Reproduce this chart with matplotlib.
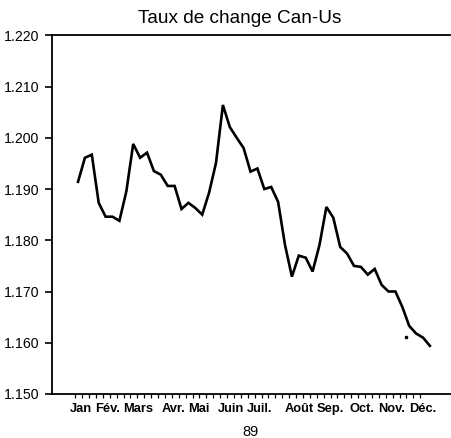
import matplotlib
matplotlib.use("Agg")
import matplotlib.pyplot as plt
import matplotlib.transforms as mtransforms
import numpy as np

# weekly Canada-US exchange rate, 1989
rates = [1.1914, 1.1961, 1.1967, 1.1873, 1.1846, 1.1846, 1.1838, 1.1895,
         1.1988, 1.1961, 1.1971, 1.1935, 1.1928, 1.1906, 1.1906, 1.1861,
         1.1873, 1.1863, 1.1850, 1.1893, 1.1951, 1.2064, 1.2021, 1.2000,
         1.1980, 1.1934, 1.1940, 1.1900, 1.1904, 1.1875, 1.1791, 1.1729,
         1.1770, 1.1766, 1.1739, 1.1791, 1.1865, 1.1844, 1.1787, 1.1774,
         1.1750, 1.1748, 1.1733, 1.1744, 1.1713, 1.1700, 1.1700, 1.1670,
         1.1633, 1.1618, 1.1610, 1.1594]
weeks = np.arange(len(rates))

months = ["Jan", "Fév.", "Mars", "Avr.", "Mai", "Juin", "Juil.",
          "Août", "Sep.", "Oct.", "Nov.", "Déc."]
month_pos = [0.36, 4.3, 8.7, 13.9, 17.5, 22.1, 26.3, 32.0, 36.5, 41.2, 45.5, 49.9]

yticks = [1.150, 1.160, 1.170, 1.180, 1.190, 1.200, 1.210, 1.220]

# stray dot near the end of the curve
dot_x, dot_y = [47.6], [1.1612]

plt.rcParams['font.family'] = ['Liberation Sans', 'DejaVu Sans']

fig = plt.figure(figsize=(4.51, 4.38), dpi=100)
ax = fig.add_axes([0.1153, 0.1005, 0.8847, 0.8189])

ax.plot(weeks, rates, color="black", lw=1.9, solid_joinstyle="miter")
ax.plot(dot_x, dot_y, "o", color="black", ms=1.6)

ax.set_xlim(-3.77, 54.06)
ax.set_ylim(1.150, 1.220)

ax.spines["right"].set_visible(False)
for s in ("left", "top", "bottom"):
    ax.spines[s].set_linewidth(1.3)

ax.set_yticks(yticks)
ax.set_yticklabels(["%.3f" % v for v in yticks], fontsize=10.2)
ax.tick_params(axis="y", direction="out", length=5, width=1.2, pad=4)

ax.set_xticks([])
ax.set_xticks(np.arange(-0.4, 50.0, 1.0), minor=True)
ax.tick_params(axis="x", which="minor", direction="out", length=3, width=0.9)

trans = mtransforms.blended_transform_factory(ax.transData, ax.transAxes)
for name, pos in zip(months, month_pos):
    ax.text(pos, -0.026, name, transform=trans, ha="center", va="top",
            fontsize=9.3, fontweight="bold")
ax.text(25.0, -0.086, "89", transform=trans, ha="center", va="top", fontsize=10.5)

fig.text(0.531, 0.978, "Taux de change Can-Us", ha="center", va="top", fontsize=13.7)

fig.savefig("out.png", dpi=100)
